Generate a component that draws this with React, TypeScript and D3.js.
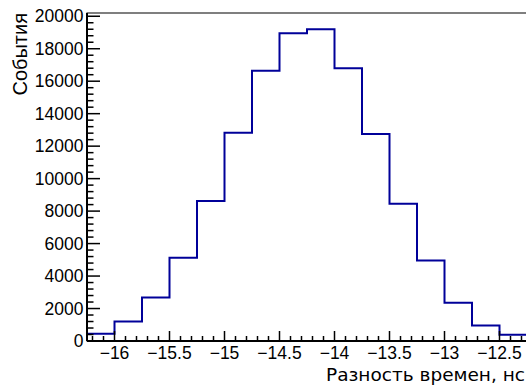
import React, { useEffect, useRef } from "react";
import * as d3 from "d3";

// histogram bins: lower edges and counts
const binEdges = [
  -16.25, -16.0, -15.75, -15.5, -15.25, -15.0, -14.75, -14.5, -14.25, -14.0,
  -13.75, -13.5, -13.25, -13.0, -12.75, -12.5, -12.25,
];
const binCounts = [
  450, 1200, 2680, 5120, 8620, 12820, 16650, 18950, 19200, 16800, 12750, 8450,
  4950, 2350, 950, 380,
];
const xMajorTicks = [-16, -15.5, -15, -14.5, -14, -13.5, -13, -12.5];
const yMajorTicks = [0, 2000, 4000, 6000, 8000, 10000, 12000, 14000, 16000, 18000, 20000];

const xTitle = "Разность времен, нс";
const yTitle = "События";

const fmt = (v: number) => String(v).replace("-", "\u2212");

export default function App() {
  const ref = useRef<SVGSVGElement>(null);

  useEffect(() => {
    const W = 526,
      H = 389;
    const margin = { top: 13, right: -1, bottom: 48, left: 87 };
    const x0 = margin.left,
      x1 = W - margin.right,
      y0 = H - margin.bottom,
      y1 = margin.top;

    const svg = d3.select(ref.current);
    svg.selectAll("*").remove();

    const x = d3.scaleLinear().domain([-16.25, -12.25]).range([x0, x1]);
    const y = d3.scaleLinear().domain([0, 20200]).range([y0, y1]);

    // frame
    svg
      .append("rect")
      .attr("x", x0)
      .attr("y", y1)
      .attr("width", x1 - x0)
      .attr("height", y0 - y1)
      .attr("fill", "none")
      .attr("stroke", "#000")
      .attr("stroke-width", 1);

    // histogram outline
    const pts: [number, number][] = [[x(binEdges[0]), y(0)]];
    binCounts.forEach((c, i) => {
      pts.push([x(binEdges[i]), y(c)]);
      pts.push([x(binEdges[i + 1]), y(c)]);
    });
    pts.push([x(binEdges[binEdges.length - 1]), y(0)]);
    svg
      .append("path")
      .attr("d", d3.line()(pts))
      .attr("fill", "none")
      .attr("stroke", "#000099")
      .attr("stroke-width", 2);

    // x axis
    const gx = svg.append("g");
    gx.append("line")
      .attr("x1", x0)
      .attr("x2", x1)
      .attr("y1", y0)
      .attr("y2", y0)
      .attr("stroke", "#000")
      .attr("stroke-width", 2);
    const xMinor = d3.range(-162, -122).map((d) => d / 10);
    gx.selectAll("line.minor")
      .data(xMinor)
      .enter()
      .append("line")
      .attr("x1", (d) => x(d))
      .attr("x2", (d) => x(d))
      .attr("y1", y0)
      .attr("y2", (d) => (xMajorTicks.some((m) => Math.abs(m - d) < 1e-6) ? y0 - 10 : y0 - 5))
      .attr("stroke", "#000")
      .attr("stroke-width", 1.5);
    gx.selectAll("text")
      .data(xMajorTicks)
      .enter()
      .append("text")
      .attr("x", (d) => x(d))
      .attr("y", y0 + 18)
      .attr("text-anchor", "middle")
      .attr("font-family", "Liberation Sans, Arial, sans-serif")
      .attr("font-size", 17.5)
      .attr("fill", "#000")
      .text((d) => fmt(d));

    // y axis
    const gy = svg.append("g");
    gy.append("line")
      .attr("x1", x0)
      .attr("x2", x0)
      .attr("y1", y0)
      .attr("y2", y1)
      .attr("stroke", "#000")
      .attr("stroke-width", 2);
    const yMinor = d3.range(0, 20001, 400);
    gy.selectAll("line.tick")
      .data(yMinor)
      .enter()
      .append("line")
      .attr("x1", x0)
      .attr("x2", (d) => (d % 2000 === 0 ? x0 + 13 : x0 + 6.5))
      .attr("y1", (d) => y(d))
      .attr("y2", (d) => y(d))
      .attr("stroke", "#000")
      .attr("stroke-width", 1.5);
    gy.selectAll("text")
      .data(yMajorTicks)
      .enter()
      .append("text")
      .attr("x", x0 - 3.5)
      .attr("y", (d) => y(d) + 6)
      .attr("text-anchor", "end")
      .attr("font-family", "Liberation Sans, Arial, sans-serif")
      .attr("font-size", 17.5)
      .attr("fill", "#000")
      .text((d) => fmt(d));

    // titles
    svg
      .append("text")
      .attr("x", W - 1)
      .attr("y", 381)
      .attr("text-anchor", "end")
      .attr("font-family", "DejaVu Sans, sans-serif")
      .attr("font-size", 18.5)
      .attr("fill", "#000")
      .text(xTitle);
    svg
      .append("text")
      .attr("transform", "translate(26.5,13) rotate(-90)")
      .attr("text-anchor", "end")
      .attr("font-family", "Liberation Sans, Arial, sans-serif")
      .attr("font-size", 20)
      .attr("fill", "#000")
      .text(yTitle);
  }, []);

  return (
    <svg
      ref={ref}
      width={526}
      height={389}
      style={{ position: "absolute", left: 0, top: 0, background: "#fff" }}
    />
  );
}
